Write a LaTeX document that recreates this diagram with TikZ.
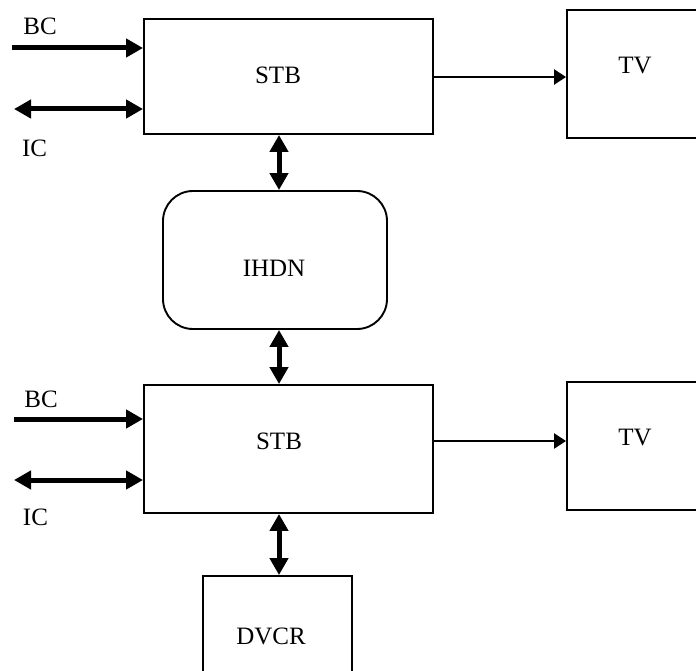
\documentclass[tikz,border=0pt]{standalone}
\usepackage{fontspec}
\setmainfont{Liberation Serif}
\usetikzlibrary{arrows.meta}
\begin{document}
\begin{tikzpicture}[x=1pt,y=-1pt,
  box/.style={draw,line width=1.9pt,rectangle,inner sep=0pt},
  lbl/.style={inner sep=0pt,font=\fontsize{25}{30}\selectfont},
  thickarr/.style={line width=5pt,-{Triangle[length=17pt,width=18pt]}},
  thickdbl/.style={line width=5pt,{Triangle[length=17pt,width=18pt]}-{Triangle[length=17pt,width=18pt]}},
  thinarr/.style={line width=2.2pt,-{Triangle[length=12pt,width=15pt]}}]
\useasboundingbox (0,0) rectangle (696,671);
\clip (0,0) rectangle (696,671);
% boxes
\node[box,minimum width=289pt,minimum height=115pt] (stb1) at (288.5,76.5) {};
\node[box,minimum width=143pt,minimum height=128pt] (tv1) at (638.5,74) {};
\node[box,rounded corners=30pt,minimum width=224pt,minimum height=138pt] (ihdn) at (275,260) {};
\node[box,minimum width=289pt,minimum height=128pt] (stb2) at (288.5,449) {};
\node[box,minimum width=143pt,minimum height=128pt] (tv2) at (638.5,446) {};
\node[box,minimum width=149pt,minimum height=114pt] (dvcr) at (277.5,633) {};
% texts
\node[lbl] (tstb1) at (278,75) {STB};
\node[lbl] (ttv1) at (635,66) {TV};
\node[lbl] (tihdn) at (274,268) {IHDN};
\node[lbl] (tstb2) at (279,441) {STB};
\node[lbl] (ttv2) at (635,438) {TV};
\node[lbl] (tdvcr) at (271,636) {DVCR};
\node[lbl] (bc1) at (40,26) {BC};
\node[lbl] (ic1) at (34.5,148) {IC};
\node[lbl] (bc2) at (41,399) {BC};
\node[lbl] (ic2) at (35.5,517.5) {IC};
% coordinates
\coordinate (bc1s) at (12,48);
\coordinate (ic1s) at (14,109);
\coordinate (bc2s) at (14,419);
\coordinate (ic2s) at (14,480);
\coordinate (vx) at (279,0);
\coordinate (a1) at (433,77);
\coordinate (a2) at (433,441);
% connectors
\draw[thickarr] (bc1s) -- (bc1s -| stb1.west);
\draw[thickdbl] (ic1s) -- (ic1s -| stb1.west);
\draw[thickarr] (bc2s) -- (bc2s -| stb2.west);
\draw[thickdbl] (ic2s) -- (ic2s -| stb2.west);
\draw[thinarr] (a1) -- (a1 -| tv1.west);
\draw[thinarr] (a2) -- (a2 -| tv2.west);
\draw[thickdbl] (stb1.south -| vx) -- (ihdn.north -| vx);
\draw[thickdbl] (ihdn.south -| vx) -- (stb2.north -| vx);
\draw[thickdbl] (stb2.south -| vx) -- (dvcr.north -| vx);
\end{tikzpicture}
\end{document}
